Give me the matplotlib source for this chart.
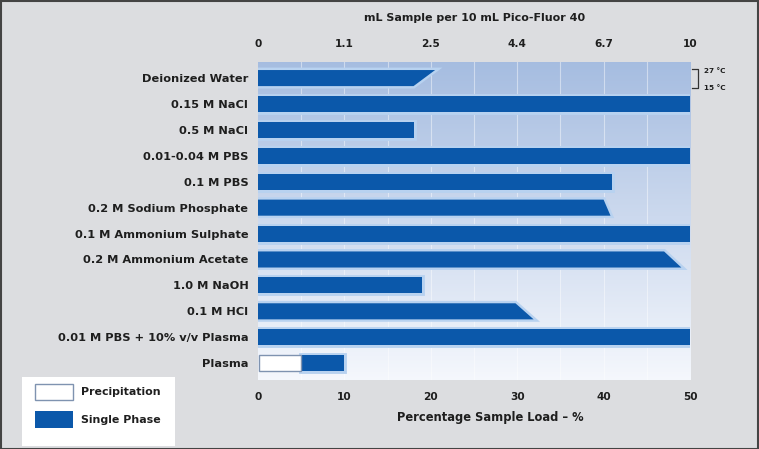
import numpy as np
import matplotlib
matplotlib.use("Agg")
import matplotlib.pyplot as plt
from matplotlib.patches import Polygon, Rectangle
from matplotlib.lines import Line2D

plt.rcParams['font.family'] = ['DejaVu Sans']
plt.rcParams['font.weight'] = 'bold'

# ---- data ----
categories = ["Deionized Water", "0.15 M NaCl", "0.5 M NaCl", "0.01-0.04 M PBS",
              "0.1 M PBS", "0.2 M Sodium Phosphate", "0.1 M Ammonium Sulphate",
              "0.2 M Ammonium Acetate", "1.0 M NaOH", "0.1 M HCl",
              "0.01 M PBS + 10% v/v Plasma", "Plasma"]
# single-phase limit (% sample load) at 27 °C (top edge) and 15 °C (bottom edge)
load_27C = [20.5, 50, 18, 50, 41, 40, 50, 47, 19, 29.8, 50, 10]
load_15C = [18, 50, 18, 50, 41, 40.8, 50, 49, 19, 31.9, 50, 10]
# precipitation region (% sample load) — only Plasma
precip = [0, 0, 0, 0, 0, 0, 0, 0, 0, 0, 0, 5]
bottom_ticks = [0, 10, 20, 30, 40, 50]
top_tick_labels = ["0", "1.1", "2.5", "4.4", "6.7", "10"]

BAR = "#0b58aa"
HALO = "#b8d2f0"
BG = "#dcdde0"
TXT = "#1e1e1e"

fig = plt.figure(figsize=(7.59, 4.49), dpi=100, facecolor=BG)
L, R = 258 / 759, 690 / 759
T, B = 62 / 449, 380 / 449
ax = fig.add_axes([L, 1 - B, R - L, B - T])
ax.set_facecolor(BG)

n = len(categories)
ytop, ybot = -0.62, n - 1 + 0.65
ax.set_xlim(0, 50)
ax.set_ylim(ybot, ytop)

# gradient background
grad = np.linspace(0, 1, 256).reshape(-1, 1)
c_top = np.array([0.65, 0.74, 0.88])
c_bot = np.array([0.96, 0.97, 0.99])
img = c_top[None, None, :] * (1 - grad[:, :, None]) + c_bot[None, None, :] * grad[:, :, None]
ax.imshow(img, extent=[0, 50, ybot, ytop], aspect='auto', zorder=0)

# faint vertical grid every 5 units
for gx in range(5, 50, 5):
    ax.axvline(gx, color="white", lw=0.8, alpha=0.45, zorder=1)

h = 0.62
for i in range(n):
    y0, y1 = i - h / 2, i + h / 2
    p0 = precip[i]
    verts = [(p0, y0), (load_27C[i], y0), (load_15C[i], y1), (p0, y1)]
    ax.add_patch(Polygon(verts, closed=True, facecolor='none', edgecolor=HALO,
                         lw=3.5, joinstyle='miter', zorder=2))
    ax.add_patch(Polygon(verts, closed=True, facecolor=BAR, edgecolor='none', zorder=3))
    if p0 > 0:
        ax.add_patch(Rectangle((0.15, y0), p0 - 0.15, h, facecolor='white',
                               edgecolor='#7f93b0', lw=1.0, zorder=3))

for s in ax.spines.values():
    s.set_visible(False)

ax.set_yticks(range(n))
ax.set_yticklabels(categories, fontsize=8.2, fontweight='bold', color=TXT)
ax.tick_params(axis='y', length=0, pad=7)
ax.set_xticks(bottom_ticks)
ax.set_xticklabels([str(t) for t in bottom_ticks], fontsize=7.6, fontweight='bold', color=TXT)
ax.tick_params(axis='x', length=0, pad=9)

axt = ax.secondary_xaxis('top')
axt.set_xticks(bottom_ticks)
axt.set_xticklabels(top_tick_labels, fontsize=7.6, fontweight='bold', color=TXT)
axt.tick_params(length=0, pad=9)
for s in axt.spines.values():
    s.set_visible(False)

fig.text(475 / 759, 1 - 18 / 449, "mL Sample per 10 mL Pico-Fluor 40", ha='center', va='center',
         fontsize=8.0, fontweight='bold', color=TXT)
fig.text(490 / 759, 1 - 418 / 449, "Percentage Sample Load \u2013 %", ha='center', va='center',
         fontsize=8.3, fontweight='bold', color=TXT)

# temperature bracket
bx0, bx1 = 692 / 759, 698 / 759
by0, by1 = 1 - 69 / 449, 1 - 88 / 449
fig.add_artist(Line2D([bx0, bx1, bx1, bx0], [by0, by0, by1, by1], color='#333333', lw=0.9))
fig.text(704 / 759, 1 - 71 / 449, "27 \u00b0C", fontsize=5.2, fontweight='bold', va='center', color=TXT)
fig.text(704 / 759, 1 - 88 / 449, "15 \u00b0C", fontsize=5.2, fontweight='bold', va='center', color=TXT)

# legend box
fig.add_artist(Rectangle((22 / 759, 1 - 446 / 449), 153 / 759, 69 / 449, transform=fig.transFigure,
                         facecolor='white', edgecolor='none'))
fig.add_artist(Rectangle((35 / 759, 1 - 400 / 449), 38 / 759, 16 / 449, transform=fig.transFigure,
                         facecolor='white', edgecolor='#7f93b0', lw=1.0))
fig.add_artist(Rectangle((35 / 759, 1 - 428 / 449), 38 / 759, 17 / 449, transform=fig.transFigure,
                         facecolor=BAR, edgecolor='none'))
fig.text(81 / 759, 1 - 392 / 449, "Precipitation", fontsize=7.9, fontweight='bold', va='center', color=TXT)
fig.text(81 / 759, 1 - 420 / 449, "Single Phase", fontsize=7.9, fontweight='bold', va='center', color=TXT)

# outer border
fig.add_artist(Rectangle((0.001, 0.001), 0.998, 0.997, transform=fig.transFigure,
                         facecolor='none', edgecolor='#444444', lw=1.5))

fig.savefig("out.png", dpi=100, facecolor=BG)
